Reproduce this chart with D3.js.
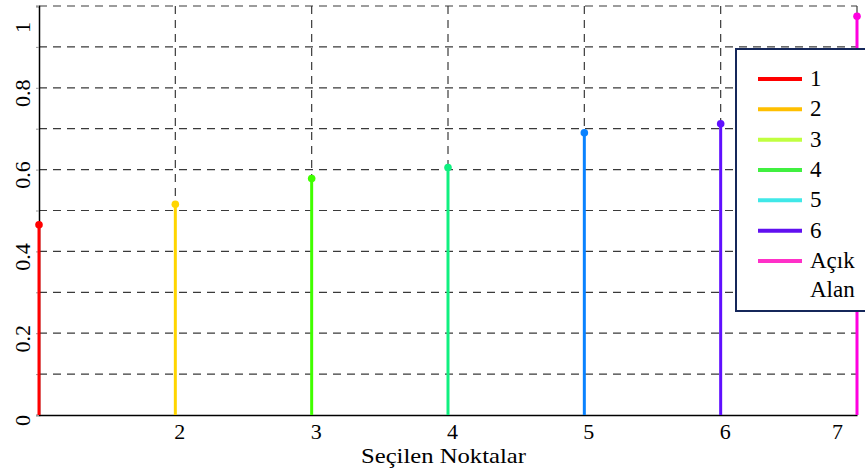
<!DOCTYPE html>
<html lang="en">
<head>
    <meta charset="UTF-8">
    <title>Seçilen Noktalar</title>
    <script src="https://d3js.org/d3.v7.min.js"></script>
</head>
<body>
<style>
    body{
        margin: 0;
        background: #fff;
    }
    .grid line{
        stroke: #3a3a3a;
        stroke-width: 1.2;
        stroke-dasharray: 8,6;
    }
</style>

<script>
    // stem data
    const points = [1, 2, 3, 4, 5, 6, 7];
    const values = [0.465, 0.515, 0.578, 0.605, 0.69, 0.712, 0.975];
    const stemColors = ["#ff0000", "#ffd500", "#40ff00", "#10f080", "#0a82ff", "#6010ff", "#ff00e0"];

    // legend
    const legendLabels = ["1", "2", "3", "4", "5", "6", "Açık Alan"];
    const legendColors = ["#ff0000", "#ffbf00", "#c0ff40", "#40f040", "#40e8e8", "#6010f0", "#ff30c8"];

    // ticks
    const xTicks = [2, 3, 4, 5, 6, 7];
    const yTicks = [0, 0.2, 0.4, 0.6, 0.8, 1];
    const yGrid = [0.1, 0.2, 0.3, 0.4, 0.5, 0.6, 0.7, 0.8, 0.9, 1];

    const W = 865, H = 471;
    const plotL = 39, plotR = 857, plotT = 6, plotB = 415;
    const serif = "'Liberation Serif', 'Times New Roman', 'DejaVu Serif', serif";

    const x = d3.scaleLinear().domain([1, 7]).range([plotL, plotR]);
    const y = d3.scaleLinear().domain([0, 1]).range([plotB, plotT]);

    let svg = d3.select("body")
        .append("svg")
        .attr("width", W)
        .attr("height", H);

    // dashed grid
    let grid = svg.append("g").attr("class", "grid");
    grid.selectAll(".h")
        .data(yGrid)
        .enter()
        .append("line")
        .attr("x1", plotL)
        .attr("x2", plotR)
        .attr("y1", d => y(d))
        .attr("y2", d => y(d));
    grid.selectAll(".v")
        .data(xTicks)
        .enter()
        .append("line")
        .attr("x1", d => x(d))
        .attr("x2", d => x(d))
        .attr("y1", plotT)
        .attr("y2", plotB);

    // y axis, labels rotated like the original
    let yAxis = svg.append("g")
        .attr("transform", "translate(" + plotL + ",0)")
        .call(d3.axisLeft(y).tickValues(yGrid.concat([0])).tickSize(3).tickFormat(d => yTicks.some(t => Math.abs(t - d) < 1e-9) ? d3.format("~g")(d) : ""));
    yAxis.select(".domain").attr("stroke", "#000").attr("stroke-width", 1.5);
    yAxis.selectAll(".tick line").attr("stroke", "#999");
    yAxis.selectAll(".tick text")
        .attr("x", 0)
        .attr("dy", 0)
        .attr("text-anchor", "middle")
        .style("font-size", "22px")
        .attr("transform", d => "translate(-9," + (Math.max(y(d) + 5, 27) - y(d)) + ") rotate(-90)");

    // x axis
    let xAxis = svg.append("g")
        .attr("transform", "translate(0," + plotB + ")")
        .call(d3.axisBottom(x).tickValues(xTicks).tickSize(0).tickFormat(d3.format("d")));
    xAxis.select(".domain").attr("stroke", "#000").attr("stroke-width", 1.5);
    xAxis.selectAll(".tick text")
        .attr("y", 24)
        .attr("dy", 0)
        .attr("x", d => Math.min(x(d) + 4, 837) - x(d))
        .style("font-size", "22px");

    svg.append("text")
        .attr("x", 361)
        .attr("y", 463)
        .attr("textLength", 165)
        .attr("lengthAdjust", "spacingAndGlyphs")
        .style("font-size", "21px")
        .text("Seçilen  Noktalar");

    // stems
    svg.selectAll(".stem")
        .data(values)
        .enter()
        .append("line")
        .attr("class", "stem")
        .attr("x1", (d, i) => x(points[i]))
        .attr("x2", (d, i) => x(points[i]))
        .attr("y1", y(0))
        .attr("y2", d => y(d))
        .attr("stroke", (d, i) => stemColors[i])
        .attr("stroke-width", 3);

    svg.selectAll(".dot")
        .data(values)
        .enter()
        .append("circle")
        .attr("cx", (d, i) => x(points[i]))
        .attr("cy", d => y(d))
        .attr("r", 3.8)
        .attr("fill", (d, i) => stemColors[i]);

    // legend
    let lg = svg.append("g");
    lg.append("rect")
        .attr("x", 736)
        .attr("y", 49)
        .attr("width", 140)
        .attr("height", 262)
        .attr("fill", "#fff")
        .attr("stroke", "#15275a")
        .attr("stroke-width", 2);

    const rowY = d3.scaleLinear().domain([0, 6]).range([79, 261]);

    let items = lg.selectAll(".item")
        .data(legendLabels)
        .enter()
        .append("g")
        .attr("transform", (d, i) => "translate(0," + rowY(i) + ")");
    items.append("line")
        .attr("x1", 758)
        .attr("x2", 802)
        .attr("stroke", (d, i) => legendColors[i])
        .attr("stroke-width", 4);
    items.each(function(d){
        let words = d.split(" ");
        let t = d3.select(this).append("text")
            .attr("x", 810)
            .attr("y", 7)
            .style("font-size", "23px");
        words.forEach(function(w, k){
            t.append("tspan")
                .attr("x", 810)
                .attr("dy", k === 0 ? 0 : 29)
                .text(w);
        });
    });

    // serif everywhere, like the original figure
    svg.selectAll("text")
        .style("font-family", serif)
        .style("fill", "#000")
        .attr("fill", "#000");
</script>
</body>
</html>
